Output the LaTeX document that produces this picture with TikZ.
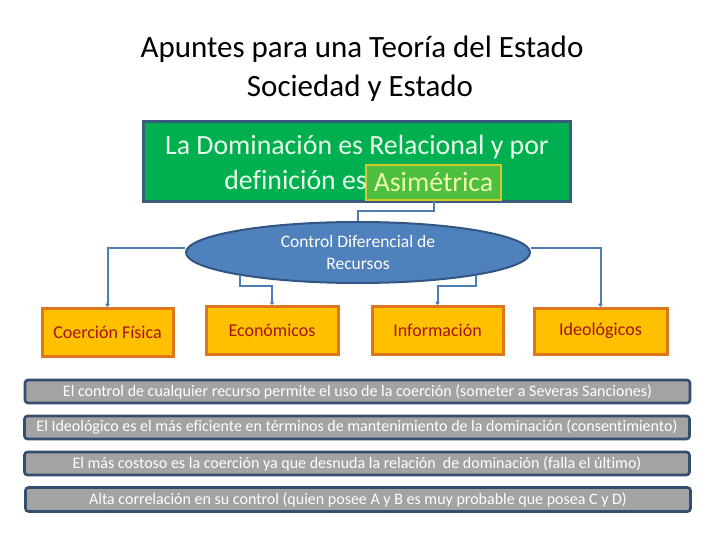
\documentclass[tikz,border=0pt]{standalone}
\usepackage{fontspec}
\setmainfont[Ligatures={NoCommon}]{Carlito}
\usetikzlibrary{shapes.geometric,arrows.meta}
\definecolor{gfill}{RGB}{0,176,80}
\definecolor{gborder}{RGB}{58,92,125}
\definecolor{gtext}{RGB}{232,252,232}
\definecolor{afill}{RGB}{76,190,64}
\definecolor{aborder}{RGB}{215,200,40}
\definecolor{atext}{RGB}{240,250,170}
\definecolor{efill}{RGB}{79,129,189}
\definecolor{eborder}{RGB}{50,85,130}
\definecolor{conn}{RGB}{79,125,180}
\definecolor{ofill}{RGB}{255,192,0}
\definecolor{oborder}{RGB}{222,118,30}
\definecolor{otext}{RGB}{165,20,20}
\definecolor{bfill}{RGB}{163,163,163}
\definecolor{bborder}{RGB}{52,78,110}
\tikzset{
  titletext/.style={font=\fontsize{31}{33}\selectfont, text=black, inner sep=0pt},
  gtxt/.style={font=\fontsize{27.8}{29}\selectfont, text=gtext, inner sep=0pt},
  obox/.style={draw=oborder, fill=ofill, line width=3pt, minimum height=48pt, minimum width=131pt, inner sep=0pt, text=otext, font=\fontsize{18}{20}\selectfont},
  bar/.style={draw=bborder, fill=bfill, line width=2.6pt, rounded corners=3pt, minimum width=665pt, minimum height=23pt, inner sep=0pt, text=white, font=\fontsize{16}{18}\selectfont},
  link/.style={draw=conn, line width=2pt},
  dot/.style={link, -{Circle[length=3.5pt,width=3.5pt]}}
}
\begin{document}
\begin{tikzpicture}[x=1pt,y=-1pt]
\useasboundingbox (0,0) rectangle (720,540);
\fill[white] (0,0) rectangle (720,540);
% title
\node[titletext] (t1) at (362,49) {Apuntes para una Teoría del Estado};
\node[titletext] (t2) at (360,88) {Sociedad y Estado};
% green box
\node[draw=gborder, fill=gfill, line width=3pt, minimum width=427pt, minimum height=80pt, inner sep=0pt] (main) at (356.5,162) {};
\node[gtxt] (l1) at (357,147) {La Dominación es Relacional y por};
\node[draw=aborder, fill=afill, line width=2pt, minimum width=135pt, minimum height=35pt, inner sep=0pt, font=\fontsize{27.8}{29}\selectfont, text=atext] (asim) at (433.5,182.5) {Asimétrica};
\node[gtxt, anchor=east] (l2) at (367,180) {definición es};
% ellipse
\node[ellipse, draw=eborder, fill=efill, line width=2pt, minimum width=344pt, minimum height=61pt, inner sep=0pt, text=white, font=\fontsize{17.5}{22}\selectfont, align=center] (ell) at (358,252.5) {Control Diferencial de\\Recursos};
% orange boxes
\node[obox] (coer) at (107.5,332) {Coerción Física};
\node[obox, minimum width=132pt] (econ) at (272,330) {Económicos};
\node[obox] (info) at (437.5,330) {Información};
\node[obox, minimum width=133pt, minimum height=46pt] (ideo) at (600.5,331) {Ideológicos};
% connectors
\draw[link] (asim.south) -- ++(0,10) -| (ell.north);
\draw[dot] ([yshift=5pt]ell.west) -| (coer.north);
\draw[dot] ([yshift=5pt]ell.east) -| (ideo.north);
\draw[dot] (ell.191) -- ++(0,11) -| (econ.north);
\draw[dot] (ell.349) -- ++(0,11) -| (info.north);
% bars
\node[bar] (b1) at (357.5,391.5) {El control de cualquier recurso permite el uso de la coerción (someter a Severas Sanciones)};
\node[bar] (b2) at (357,427.5) {El Ideológico es el más eficiente en términos de mantenimiento de la dominación (consentimiento)};
\node[bar] (b3) at (357,463.5) {El más costoso es la coerción ya que desnuda la relación\ \ de dominación (falla el último)};
\node[bar, minimum height=24pt] (b4) at (358,499.5) {Alta correlación en su control (quien posee A y B es muy probable que posea C y D)};
\end{tikzpicture}
\end{document}
